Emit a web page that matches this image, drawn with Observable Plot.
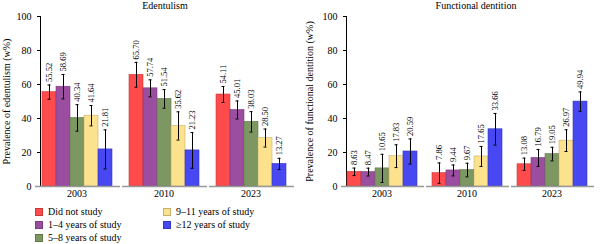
<!DOCTYPE html>
<html>
<head>
<meta charset="utf-8">
<script src="https://cdn.jsdelivr.net/npm/d3@7"></script>
<script src="https://cdn.jsdelivr.net/npm/@observablehq/plot@0.6"></script>
<style>
  body { margin: 0; background: #fff; font-family: "Liberation Serif", serif; color: #000; }
  #wrap { position: relative; width: 600px; height: 244px; overflow: hidden; }
  .panel { position: absolute; top: 0; }
  .title { position: absolute; top: 0; font-size: 10px; line-height: 11px; white-space: nowrap; transform: translateX(-50%); }
  #legend { position: absolute; left: 35px; top: 205px; display: grid; grid-auto-flow: column;
            grid-template-rows: repeat(3, 13px); grid-template-columns: 128px 140px; font-size: 10px; }
  .item { display: flex; align-items: center; white-space: nowrap; }
  .sw { width: 8px; height: 8px; margin-right: 5px; box-sizing: border-box; border: 0.6px solid; }
</style>
</head>
<body>
<div id="wrap">
  <div class="panel" id="left" style="left:0"></div>
  <div class="panel" id="right" style="left:300px"></div>
  <div class="title" style="left:165px">Edentulism</div>
  <div class="title" style="left:476px">Functional dentition</div>
  <div id="legend"></div>
</div>
<script>
// Survey years and schooling groups
const years = ["2003", "2010", "2023"];
const levels = ["Did not study", "1–4 years of study", "5–8 years of study", "9–11 years of study", "≥12 years of study"];
const colors = ["#ff4b4b", "#9b4d9f", "#7c9762", "#fde28e", "#4848f2"];
const yTicks = [0, 20, 40, 60, 80, 100];

// Prevalence (w%) per year, one value per schooling group
const edentulism = [
  [55.52, 58.69, 40.34, 41.64, 21.81],
  [65.70, 57.74, 51.54, 35.62, 21.23],
  [54.11, 45.01, 38.03, 28.50, 13.27]
];
// Half-width of the 95% confidence interval
const edentulismCI = [
  [4.2, 7.2, 7.8, 6.0, 11.5],
  [7.3, 5.0, 5.5, 8.3, 10.5],
  [4.7, 5.3, 6.0, 5.3, 3.3]
];
const functional = [
  [8.63, 8.47, 10.65, 17.83, 20.59],
  [7.86, 9.44, 9.67, 17.65, 33.66],
  [13.08, 16.79, 19.05, 26.97, 49.94]
];
const functionalCI = [
  [2.2, 2.3, 8.3, 6.7, 7.4],
  [6.0, 3.2, 4.0, 5.9, 9.3],
  [3.6, 5.0, 4.0, 6.4, 5.7]
];

const strokes = colors.map(c => d3.color(c).darker(0.7).formatHex());
const fmt = d3.format(".2f");

function panel(values, ci, yLabel, marginLeft, labelOffset) {
  const rows = years.flatMap((year, i) => levels.map((level, j) => ({
    year, level,
    value: values[i][j],
    lo: values[i][j] - ci[i][j],
    hi: values[i][j] + ci[i][j]
  })));
  return Plot.plot({
    width: 300,
    height: 202,
    marginTop: 16,
    marginBottom: 16,
    marginLeft,
    marginRight: 7,
    style: { fontFamily: "Liberation Serif", fontSize: "10px", background: "transparent", color: "#000" },
    facet: { data: rows, x: "year" },
    fx: { domain: years, paddingInner: 0.16, paddingOuter: 0.05, label: null, tickSize: 0, tickPadding: 3, axis: "bottom" },
    x: { domain: levels, axis: null, padding: 0 },
    y: { domain: [0, 100], ticks: yTicks, tickSize: 3, line: true, label: yLabel, labelAnchor: "center", labelArrow: false, labelOffset },
    color: { domain: levels, range: colors },
    marks: [
      Plot.barY(rows, { x: "level", y: "value", fill: "level", stroke: d => strokes[levels.indexOf(d.level)], strokeWidth: 0.6 }),
      Plot.ruleY([0], { stroke: "#999", strokeWidth: 1.5, insetLeft: -5, insetRight: -7 }),
      Plot.ruleX(rows, { x: "level", y1: "lo", y2: "hi", stroke: "#000", strokeWidth: 1 }),
      Plot.tickY(rows, { x: "level", y: "lo", stroke: "#000", insetLeft: 5.5, insetRight: 5.5 }),
      Plot.tickY(rows, { x: "level", y: "hi", stroke: "#000", insetLeft: 5.5, insetRight: 5.5 }),
      Plot.text(rows, { x: "level", y: "hi", text: d => fmt(d.value), rotate: -90, textAnchor: "start", dy: -3, fontSize: 8.5 })
    ]
  });
}

document.getElementById("left").append(panel(edentulism, edentulismCI, "Prevalence of edentulism (w%)", 35, 38));
document.getElementById("right").append(panel(functional, functionalCI, "Prevalence of functional dentition (w%)", 41, 41));

// Legend
const legend = d3.select("#legend");
levels.forEach((level, i) => {
  const item = legend.append("div").attr("class", "item");
  item.append("div").attr("class", "sw").style("background", colors[i]).style("border-color", strokes[i]);
  item.append("span").text(level);
});
</script>
</body>
</html>
